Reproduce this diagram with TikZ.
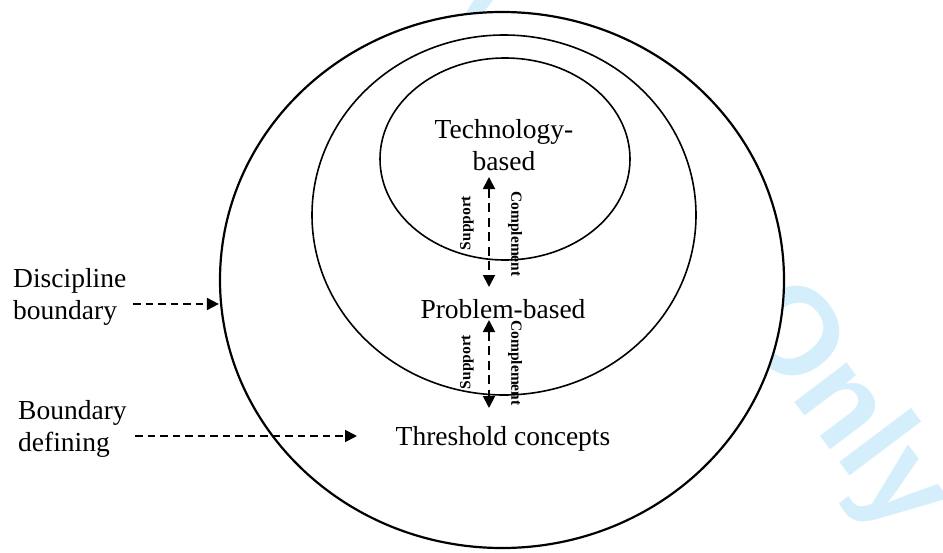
\documentclass[tikz,border=0pt]{standalone}
\usepackage{fontspec}
\setmainfont{Liberation Serif}
\newfontfamily\wmfont{Liberation Sans}
\usetikzlibrary{shapes.geometric,arrows.meta}
\definecolor{wmblue}{RGB}{213,238,251}
\tikzset{
  ring/.style={draw=black,ellipse,inner sep=0pt},
  label/.style={font=\fontsize{27.5}{32}\selectfont,inner sep=0pt,align=center},
  sidelabel/.style={font=\fontsize{27.5}{32}\selectfont,inner sep=0pt,align=left,anchor=west},
  tag/.style={font=\fontsize{15.5}{18}\selectfont\bfseries,inner sep=0pt},
  pointer/.style={line width=1.8pt,dash pattern=on 7.5pt off 5pt,-{Triangle[length=12pt,width=12pt]}},
  twoway/.style={line width=1.8pt,dash pattern=on 9pt off 5.5pt,{Triangle[length=12pt,width=12pt]}-{Triangle[length=12pt,width=12pt]}}
}
\begin{document}
\begin{tikzpicture}[x=1pt,y=-1pt]
\useasboundingbox (0,0) rectangle (943,552);

% watermark behind everything
\fill[wmblue] (474,0) -- (493,0) -- (474,25) -- (458,25) -- cycle;
\node[wmblue,font=\wmfont\bfseries\fontsize{124}{140}\selectfont,inner sep=0pt,anchor=base west,rotate=-53] (wm) at (731,318) {Only};

% nested circles (the outer one is filled white and hides the watermark)
\node[ring,fill=white,line width=2.2pt,minimum width=564pt,minimum height=536pt] (outer) at (502,280) {};
\node[ring,line width=1.6pt,minimum width=384pt,minimum height=360pt] (middle) at (504,215) {};
\node[ring,line width=1.6pt,minimum width=250pt,minimum height=202pt] (inner) at (505,159) {};

% texts inside the circles
\node[label] (tech) at (504,145) {Technology-\\based};
\node[label] (prob) at (503,309) {Problem-based};
\node[label] (thr) at (503,439) {Threshold concepts};

% side labels
\node[sidelabel] (disc) at (13,297) {Discipline\\boundary};
\node[sidelabel] (bdef) at (18,429) {Boundary\\defining};

% pointers from side labels
\coordinate (p1) at (133,304);
\draw[pointer] (p1) -- (outer.west |- p1);
\coordinate (p2s) at (135,436);
\coordinate (p2e) at (357,436);
\draw[pointer] (p2s) -- (p2e);

% two-way links between levels
\coordinate (u1) at (489,177);
\coordinate (u2) at (489,287);
\coordinate (l1) at (489,320);
\coordinate (l2) at (489,408);
\draw[twoway] (u1) -- (u2);
\draw[twoway] (l1) -- (l2);

\node[tag,rotate=90] (sup1) at (467,223) {Support};
\node[tag,rotate=-90] (com1) at (515,234) {Complement};
\node[tag,rotate=90] (sup2) at (467,362) {Support};
\node[tag,rotate=-90] (com2) at (515,363) {Complement};
\end{tikzpicture}
\end{document}
